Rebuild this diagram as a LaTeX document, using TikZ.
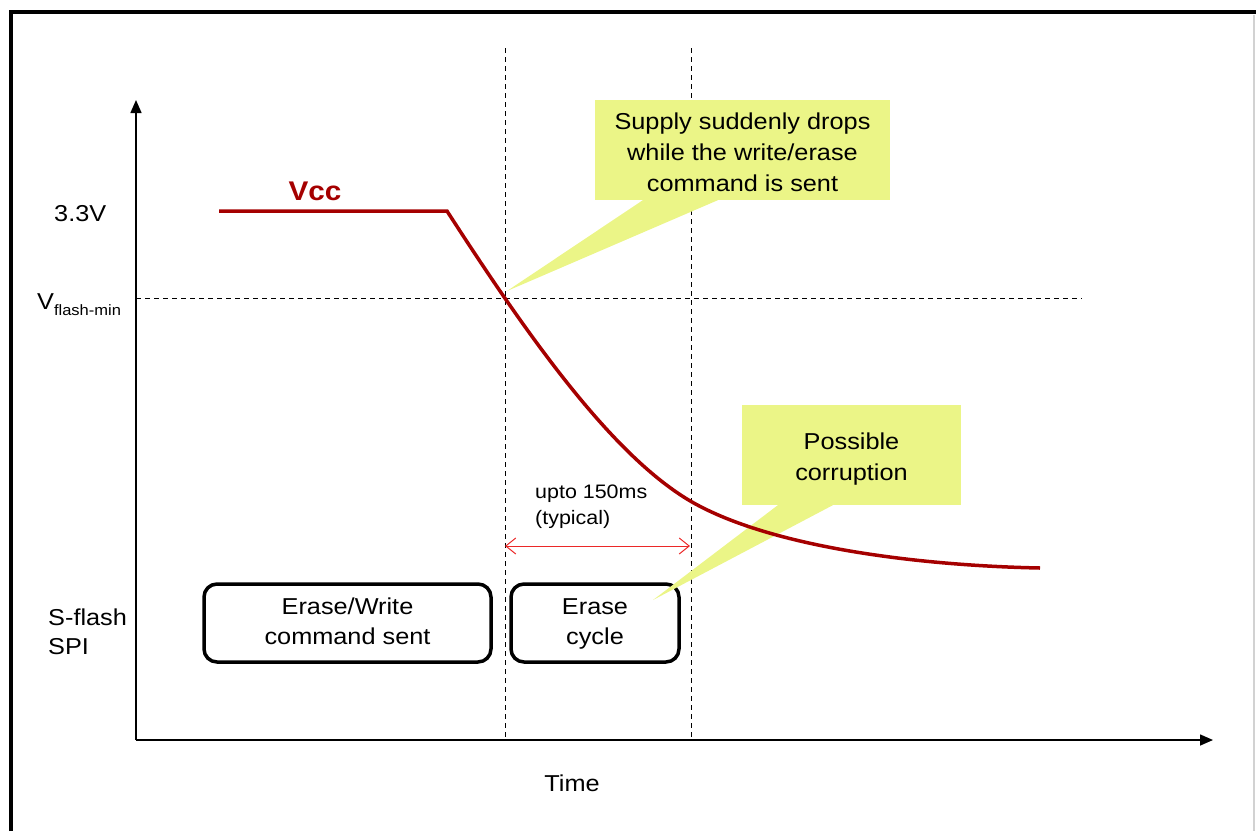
\documentclass[tikz,border=0pt]{standalone}
\usepackage{fontspec}
\setmainfont[FakeStretch=1.1]{Liberation Sans}
\usetikzlibrary{arrows.meta}
\definecolor{vccred}{RGB}{165,0,0}
\definecolor{calloutfill}{RGB}{235,245,135}
\definecolor{dimred}{RGB}{235,40,40}
\tikzset{
  frameline/.style={line width=4pt, black},
  axisline/.style={line width=1.5pt, -{Triangle[length=13pt,width=11pt]}},
  dashline/.style={line width=1pt, dash pattern=on 5pt off 4pt},
  phasebox/.style={draw, line width=3.5pt, rounded corners=13pt, align=center,
    font=\fontsize{23}{30}\selectfont, inner sep=0pt},
  callbox/.style={fill=calloutfill, align=center, inner sep=0pt,
    font=\fontsize{23}{31}\selectfont},
  lbl/.style={inner sep=0pt, font=\fontsize{23}{29}\selectfont},
  vccline/.style={vccred, line width=3.5pt},
  dimarrow/.style={dimred, line width=1pt, {Straight Barb[length=10pt,width=16pt]}-{Straight Barb[length=10pt,width=16pt]}}
}
\begin{document}
\begin{tikzpicture}[x=1pt,y=-1pt]
\useasboundingbox (0,0) rectangle (1256,831);
% frame
\draw[frameline] (11,831) -- (11,12) -- (1256,12);
\draw[gray!35, line width=1.2pt] (1254,15) -- (1254,831);
% guides
\coordinate (v1top) at (505,48);
\coordinate (v1bot) at (505,740);
\coordinate (v2top) at (691,48);
\coordinate (v2bot) at (691,740);
\coordinate (hl) at (136,298);
\coordinate (hr) at (1082,298);
\draw[dashline] (v1top) -- (v1bot);
\draw[dashline] (v2top) -- (v2bot);
\draw[dashline] (hl) -- (hr);
% axes
\coordinate (o) at (136,740);
\coordinate (ytop) at (136,100);
\coordinate (xend) at (1213,740);
\draw[axisline] (o) -- (ytop);
\draw[axisline] (o) -- (xend);
% phase boxes
\node[phasebox, minimum width=287pt, minimum height=78pt] (cmd) at (347.5,623) {Erase/Write\strut\\command sent\strut};
\node[phasebox, minimum width=168pt, minimum height=78pt] (erase) at (595,623) {Erase\strut\\cycle\strut};
% callouts
\node[callbox, minimum width=295pt, minimum height=100pt] (c1) at (742.5,150) {};
\node[callbox, fill=none, anchor=center] (c1t) at (742.5,152) {Supply suddenly drops\\while the write/erase\\command is sent};
\coordinate (t1) at (507,291);
\fill[calloutfill] ([xshift=48pt]c1.south west) -- (t1) -- ([xshift=123pt]c1.south west) -- cycle;
\node[callbox, minimum width=219pt, minimum height=100pt] (c2) at (851.5,455) {};
\node[callbox, fill=none] (c2t) at (851.5,459) {Possible\\corruption};
\coordinate (t2) at (653,600);
\fill[calloutfill] ([xshift=36pt]c2.south west) -- (t2) -- ([xshift=91pt]c2.south west) -- cycle;
% Vcc curve
\coordinate (vs) at (219,211);
\coordinate (vk) at (447,211);
\coordinate (vm) at (692,502);
\coordinate (ve) at (1040,568);
\draw[vccline] (vs) -- (vk) .. controls (527,335) and (612,456) .. (vm)
  .. controls (772,547.6) and (920,565.6) .. (ve);
\node[font=\fontsize{27}{30}\selectfont\bfseries, text=vccred, anchor=base] (vcc) at (315,200) {Vcc};
% dimension arrow
\coordinate (da) at (505,546);
\coordinate (db) at (690,546);
\draw[dimarrow] (da) -- (db);
\node[anchor=north west, align=left, inner sep=0pt, font=\fontsize{19.5}{26}\selectfont] (dur) at (535,485) {upto 150ms\\(typical)};
% labels
\node[lbl, anchor=base west] (v33) at (54,221) {3.3V};
\node[lbl, anchor=base west] (vmin) at (37,309) {V\raisebox{-6pt}{\fontsize{15}{18}\selectfont flash-min}};
\node[lbl, anchor=north west, align=left] (spi) at (48,609) {S-flash\\SPI};
\node[lbl, anchor=base] (time) at (572,791) {Time};
\end{tikzpicture}
\end{document}
